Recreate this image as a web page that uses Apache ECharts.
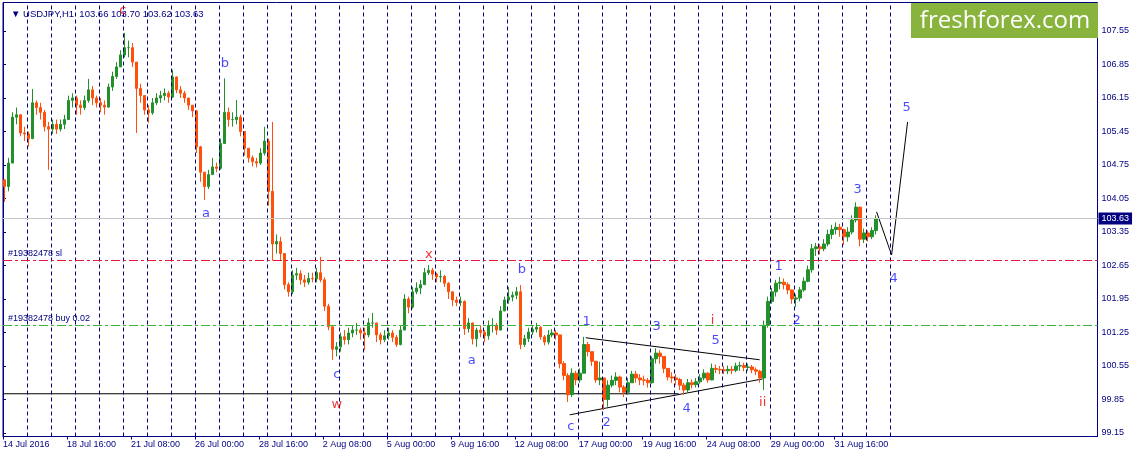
<!DOCTYPE html>
<html>
<head>
<meta charset="utf-8">
<title>USDJPY H1</title>
<script src="https://cdn.jsdelivr.net/npm/echarts@6.0.0/dist/echarts.min.js"></script>
<style>
  html, body { margin: 0; padding: 0; background: #fff; }
  #main { width: 1138px; height: 457px; }
</style>
</head>
<body>
<div id="main"></div>
<script>
// 4-hour candles, one value per block
const firstOpen = 104.44
const closes = [
    104.3, 104.79, 105.75, 105.8, 105.42, 105.4, 105.3, 106.05, 105.95, 105.85,
    105.55, 105.5, 105.6, 105.5, 105.6, 105.7, 106.1, 106.15, 106.0, 105.95,
    106.1, 106.32, 106.15, 106.05, 106.0, 105.96, 106.38, 106.6, 106.8, 107.05,
    107.2, 107.2, 106.9, 106.35, 106.2, 105.9, 105.84, 106.05, 106.15, 106.2,
    106.25, 106.17, 106.59, 106.32, 106.25, 106.15, 106.0, 105.88, 105.13, 104.6,
    104.3, 104.55, 104.71, 104.68, 105.2, 105.85, 105.7, 105.7, 105.75, 105.45,
    105.1, 104.9, 104.82, 104.79, 105.0, 105.25, 104.2, 103.1, 103.15, 102.9,
    102.25, 102.1, 102.45, 102.48, 102.35, 102.3, 102.38, 102.37, 102.5, 102.35,
    101.8, 101.37, 100.9, 100.95, 101.16, 101.1, 101.24, 101.3, 101.3, 101.24,
    101.2, 101.45, 101.45, 101.2, 101.1, 101.18, 101.24, 101.15, 101.0, 101.3,
    101.95, 101.78, 102.1, 102.18, 102.25, 102.5, 102.55, 102.47, 102.41, 102.42,
    102.28, 102.1, 101.93, 101.88, 101.9, 101.33, 101.45, 101.12, 101.3, 101.25,
    101.18, 101.4, 101.4, 101.3, 101.7, 101.93, 101.99, 102.03, 102.1, 101.0,
    101.12, 101.26, 101.32, 101.36, 101.16, 101.05, 101.2, 101.24, 101.2, 100.6,
    100.35, 99.95, 100.4, 100.26, 100.4, 101.0, 100.85, 100.65, 100.26, 100.3,
    99.85, 100.15, 100.25, 100.32, 100.11, 100.0, 100.2, 100.38, 100.3, 100.26,
    100.25, 100.2, 100.7, 100.82, 100.75, 100.5, 100.32, 100.3, 100.27, 100.15,
    100.05, 100.2, 100.16, 100.22, 100.3, 100.4, 100.26, 100.5, 100.48, 100.47,
    100.45, 100.48, 100.46, 100.55, 100.56, 100.52, 100.53, 100.47, 100.44, 100.3,
    101.4, 101.9, 102.1, 102.28, 102.3, 102.25, 102.14, 101.95, 101.97, 102.14,
    102.32, 102.56, 103.0, 103.04, 103.0, 103.1, 103.3, 103.4, 103.45, 103.4,
    103.25, 103.35, 103.6, 103.87, 103.2, 103.33, 103.25, 103.38, 103.63,
]
const highs = [
    104.45, 104.9, 105.85, 105.95, 105.8, 105.55, 105.45, 106.34, 106.1, 106.05,
    105.9, 105.65, 105.7, 105.7, 105.7, 105.8, 106.2, 106.25, 106.2, 106.1,
    106.2, 106.55, 106.4, 106.2, 106.15, 106.1, 106.45, 106.7, 106.9, 107.15,
    107.51, 107.35, 107.3, 106.9, 106.45, 106.2, 106.0, 106.15, 106.25, 106.3,
    106.35, 106.3, 106.74, 106.6, 106.4, 106.3, 106.15, 106.0, 105.9, 105.15,
    104.6, 104.65, 104.9, 104.8, 105.3, 106.56, 105.95, 105.85, 106.11, 105.8,
    105.45, 105.1, 104.95, 104.9, 105.1, 105.55, 105.3, 105.65, 103.3, 103.25,
    102.8, 102.3, 102.55, 102.6, 102.55, 102.45, 102.5, 102.5, 102.6, 102.83,
    102.4, 101.85, 101.4, 101.05, 101.25, 101.3, 101.35, 101.4, 101.45, 101.35,
    101.35, 101.55, 101.66, 101.45, 101.25, 101.3, 101.35, 101.3, 101.2, 101.4,
    102.05, 102.0, 102.2, 102.3, 102.35, 102.6, 102.66, 102.6, 102.5, 102.55,
    102.45, 102.3, 102.1, 102.0, 102.0, 101.92, 101.55, 101.45, 101.35, 101.4,
    101.3, 101.5, 101.55, 101.45, 101.8, 102.0, 102.2, 102.1, 102.2, 102.24,
    101.2, 101.35, 101.4, 101.45, 101.38, 101.2, 101.3, 101.32, 101.3, 101.2,
    100.65, 100.4, 100.5, 100.45, 100.5, 101.16, 101.05, 100.85, 100.65, 100.64,
    100.3, 100.25, 100.35, 100.42, 100.35, 100.15, 100.3, 100.45, 100.45, 100.38,
    100.35, 100.3, 100.75, 100.92, 100.88, 100.75, 100.5, 100.42, 100.38, 100.3,
    100.2, 100.28, 100.27, 100.3, 100.38, 100.48, 100.42, 100.6, 100.58, 100.55,
    100.55, 100.56, 100.55, 100.62, 100.64, 100.62, 100.6, 100.57, 100.52, 100.47,
    101.5, 102.0, 102.18, 102.35, 102.41, 102.38, 102.3, 102.15, 102.05, 102.2,
    102.4, 102.65, 103.1, 103.12, 103.1, 103.2, 103.4, 103.5, 103.55, 103.52,
    103.42, 103.45, 103.7, 103.97, 103.88, 103.42, 103.38, 103.45, 103.7,
]
const lows = [
    103.98, 104.2, 104.8, 105.6, 105.35, 105.25, 105.13, 105.3, 105.8, 105.7,
    105.45, 104.65, 105.4, 105.4, 105.45, 105.5, 105.7, 105.95, 105.8, 105.8,
    105.9, 106.05, 106.0, 105.95, 105.85, 105.8, 105.95, 106.3, 106.55, 106.8,
    107.0, 107.0, 106.8, 105.42, 106.05, 105.8, 105.63, 105.8, 106.0, 106.05,
    106.1, 106.05, 106.15, 106.25, 106.15, 106.05, 105.9, 105.75, 105.0, 104.4,
    104.02, 104.25, 104.55, 104.6, 104.65, 105.2, 105.55, 105.55, 105.6, 105.35,
    104.95, 104.8, 104.72, 104.7, 104.75, 104.95, 103.9, 102.75, 102.9, 102.75,
    102.15, 102.0, 102.05, 102.35, 102.25, 102.2, 102.25, 102.3, 102.3, 102.3,
    101.7, 101.3, 100.68, 100.75, 100.85, 101.0, 101.0, 101.15, 101.2, 101.1,
    100.88, 101.15, 101.35, 101.05, 101.0, 101.05, 101.1, 101.05, 100.95, 100.98,
    101.3, 101.65, 101.75, 102.05, 102.05, 102.3, 102.45, 102.35, 102.3, 102.3,
    102.2, 101.95, 101.8, 101.8, 101.8, 101.2, 101.25, 101.0, 100.95, 101.15,
    101.05, 101.1, 101.25, 101.2, 101.3, 101.7, 101.85, 101.9, 101.95, 100.9,
    100.95, 101.05, 101.2, 101.25, 101.1, 100.98, 101.0, 101.15, 101.1, 100.5,
    100.25, 99.8, 99.9, 100.15, 100.2, 100.4, 100.75, 100.55, 100.2, 100.15,
    99.63, 99.7, 100.1, 100.15, 100.0, 99.9, 99.95, 100.2, 100.2, 100.15,
    100.15, 100.1, 100.18, 100.6, 100.6, 100.4, 100.25, 100.2, 100.15, 100.05,
    99.95, 100.0, 100.08, 100.1, 100.18, 100.25, 100.2, 100.25, 100.4, 100.38,
    100.38, 100.38, 100.38, 100.42, 100.45, 100.44, 100.45, 100.4, 100.36, 100.2,
    100.05, 101.35, 101.85, 102.0, 102.15, 102.15, 102.05, 101.85, 101.78, 101.9,
    102.1, 102.3, 102.5, 102.85, 102.88, 102.95, 103.05, 103.2, 103.3, 103.25,
    103.08, 103.15, 103.3, 103.55, 103.05, 103.12, 103.15, 103.2, 103.3,
]
const barHours = 4

const timeLabels = [
    '14 Jul 2016', '18 Jul 16:00', '21 Jul 08:00', '26 Jul 00:00',
    '28 Jul 16:00', '2 Aug 08:00', '5 Aug 00:00', '9 Aug 16:00',
    '12 Aug 08:00', '17 Aug 00:00', '19 Aug 16:00', '24 Aug 08:00',
    '29 Aug 00:00', '31 Aug 16:00',
]
const labelStep = 64
const dayCount = 37
const priceTicks = [
    99.15, 99.85, 100.55, 101.25, 101.95, 102.65, 103.35,
    104.05, 104.75, 105.45, 106.15, 106.85, 107.55,
]
const quote = ['103.66', '103.70', '103.62', '103.63']
const orderId = '#19382478'
const slPrice = 102.77
const buyPrice = 101.4
const lastPrice = 103.63

// drawn objects, [hour, price]
const supportLine = [[0, 99.97], [676, 99.97]]
const triangleTop = [[583, 101.14], [757, 100.68]]
const triangleBottom = [[567, 99.53], [760, 100.28]]
const forecastPath = [[874, 103.77], [889, 102.87], [905, 105.65]]

const BLUE = '#1a1aff'
const RED = '#e80000'
const waveLabels = [
    [120, 107.97, 'c', RED],
    [222, 106.86, 'b', BLUE],
    [203, 103.73, 'a', BLUE],
    [334, 100.36, 'c', BLUE],
    [334, 99.74, 'w', RED],
    [426, 102.87, 'x', RED],
    [469, 100.66, 'a', BLUE],
    [519, 102.56, 'b', BLUE],
    [568, 99.28, 'c', BLUE],
    [584, 101.47, '1', BLUE],
    [604, 99.36, '2', BLUE],
    [654, 101.37, '3', BLUE],
    [684, 99.65, '4', BLUE],
    [710, 101.49, 'i', RED],
    [713, 101.07, '5', BLUE],
    [760, 99.78, 'ii', RED],
    [776, 102.62, '1', BLUE],
    [794, 101.49, '2', BLUE],
    [855, 104.23, '3', BLUE],
    [891, 102.37, '4', BLUE],
    [904, 105.94, '5', BLUE],
]

const NAVY = '#000080'
const axisFont = { color: NAVY, fontSize: 9, fontFamily: 'Liberation Sans' }

const candles = closes.map((c, i) => {
    const o = i === 0 ? firstOpen : closes[i - 1]
    return [i * barHours + 1.5, o, c, Math.min(lows[i], o, c), Math.max(highs[i], o, c)]
})
const tickHours = timeLabels.map((t, i) => i * labelStep)
const separators = []
for (let d = 1; d <= dayCount; d++) {
    separators.push({ xAxis: d * 24 })
}

const plainLine = (data, z) => ({
    type: 'line',
    data,
    symbol: 'none',
    silent: true,
    z,
    lineStyle: { color: '#000', width: 1 },
})

const chart = echarts.init(document.getElementById('main'))
chart.setOption({
    animation: false,
    backgroundColor: '#fff',
    title: {
        text: '\u25BC USDJPY,H1  ' + quote.join(' '),
        left: 6,
        top: 4,
        textStyle: { color: NAVY, fontSize: 9.5, fontWeight: 'normal', fontFamily: 'Liberation Sans' },
    },
    grid: {
        left: 2.5,
        right: 40.5,
        top: 2.5,
        bottom: 20.5,
        show: true,
        borderColor: NAVY,
        borderWidth: 1,
        backgroundColor: '#fff',
    },
    xAxis: {
        type: 'value',
        min: 0,
        max: 1095,
        axisLine: { show: true, lineStyle: { color: NAVY } },
        axisTick: { show: true, customValues: tickHours, length: 3, lineStyle: { color: NAVY } },
        axisLabel: {
            ...axisFont,
            customValues: tickHours,
            align: 'left',
            margin: 4,
            formatter: v => timeLabels[tickHours.indexOf(v)] || '',
        },
        splitLine: { show: false },
    },
    yAxis: {
        type: 'value',
        position: 'right',
        min: 99.0769,
        max: 108.1455,
        scale: true,
        axisLine: { show: true, lineStyle: { color: NAVY } },
        axisTick: { show: true, customValues: priceTicks, length: 3, lineStyle: { color: NAVY } },
        axisLabel: {
            ...axisFont,
            customValues: priceTicks,
            margin: 4,
            formatter: v => v.toFixed(2),
        },
        splitLine: { show: false },
    },
    series: [
        {
            // day separators + order levels
            type: 'line',
            data: [],
            silent: true,
            z: 1,
            markLine: {
                silent: true,
                symbol: 'none',
                animation: false,
                data: [
                    ...separators.map(s => ({
                        ...s,
                        lineStyle: { color: NAVY, type: [4, 3], width: 1 },
                        label: { show: false },
                    })),
                    {
                        yAxis: lastPrice,
                        lineStyle: { color: '#c8c8c8', type: 'solid', width: 1 },
                        label: {
                            show: true,
                            position: 'end',
                            distance: 1,
                            formatter: lastPrice.toFixed(2),
                            color: '#fff',
                            backgroundColor: NAVY,
                            padding: [2, 3, 1, 3],
                            fontSize: 9,
                            fontFamily: 'Liberation Sans',
                        },
                    },
                    {
                        yAxis: slPrice,
                        lineStyle: { color: '#e8173b', type: [9, 3, 3, 3], width: 1 },
                        label: {
                            show: true,
                            position: 'insideStartTop',
                            distance: [5, 2],
                            formatter: orderId + ' sl',
                            ...axisFont,
                        },
                    },
                    {
                        yAxis: buyPrice,
                        lineStyle: { color: '#3cb43c', type: [9, 3, 3, 3], width: 1 },
                        label: {
                            show: true,
                            position: 'insideStartTop',
                            distance: [5, 2],
                            formatter: orderId + ' buy 0.02',
                            ...axisFont,
                        },
                    },
                ],
            },
        },
        plainLine(supportLine, 3),
        plainLine(triangleTop, 3),
        plainLine(triangleBottom, 3),
        plainLine(forecastPath, 3),
        {
            type: 'candlestick',
            data: candles,
            barWidth: 3,
            z: 4,
            itemStyle: {
                color: '#23902b',
                color0: '#ff4f0a',
                borderColor: '#23902b',
                borderColor0: '#ff4f0a',
                borderWidth: 1,
            },
        },
        {
            type: 'scatter',
            symbolSize: 0,
            silent: true,
            z: 6,
            data: waveLabels.map(w => ({
                value: [w[0], w[1]],
                label: { color: w[3] },
            })),
            label: {
                show: true,
                position: 'inside',
                fontSize: 13,
                fontFamily: 'DejaVu Sans',
                formatter: p => waveLabels[p.dataIndex][2],
            },
        },
    ],
    graphic: [
        {
            type: 'rect',
            left: 911,
            top: 3,
            z: 100,
            shape: { width: 187, height: 35 },
            style: { fill: '#88b43e' },
        },
        {
            type: 'text',
            x: 1005,
            y: 21,
            z: 101,
            style: {
                text: 'freshforex.com',
                fill: '#fff',
                font: '24px "Open Sans"',
                align: 'center',
                verticalAlign: 'middle',
            },
        },
    ],
})
</script>
</body>
</html>
